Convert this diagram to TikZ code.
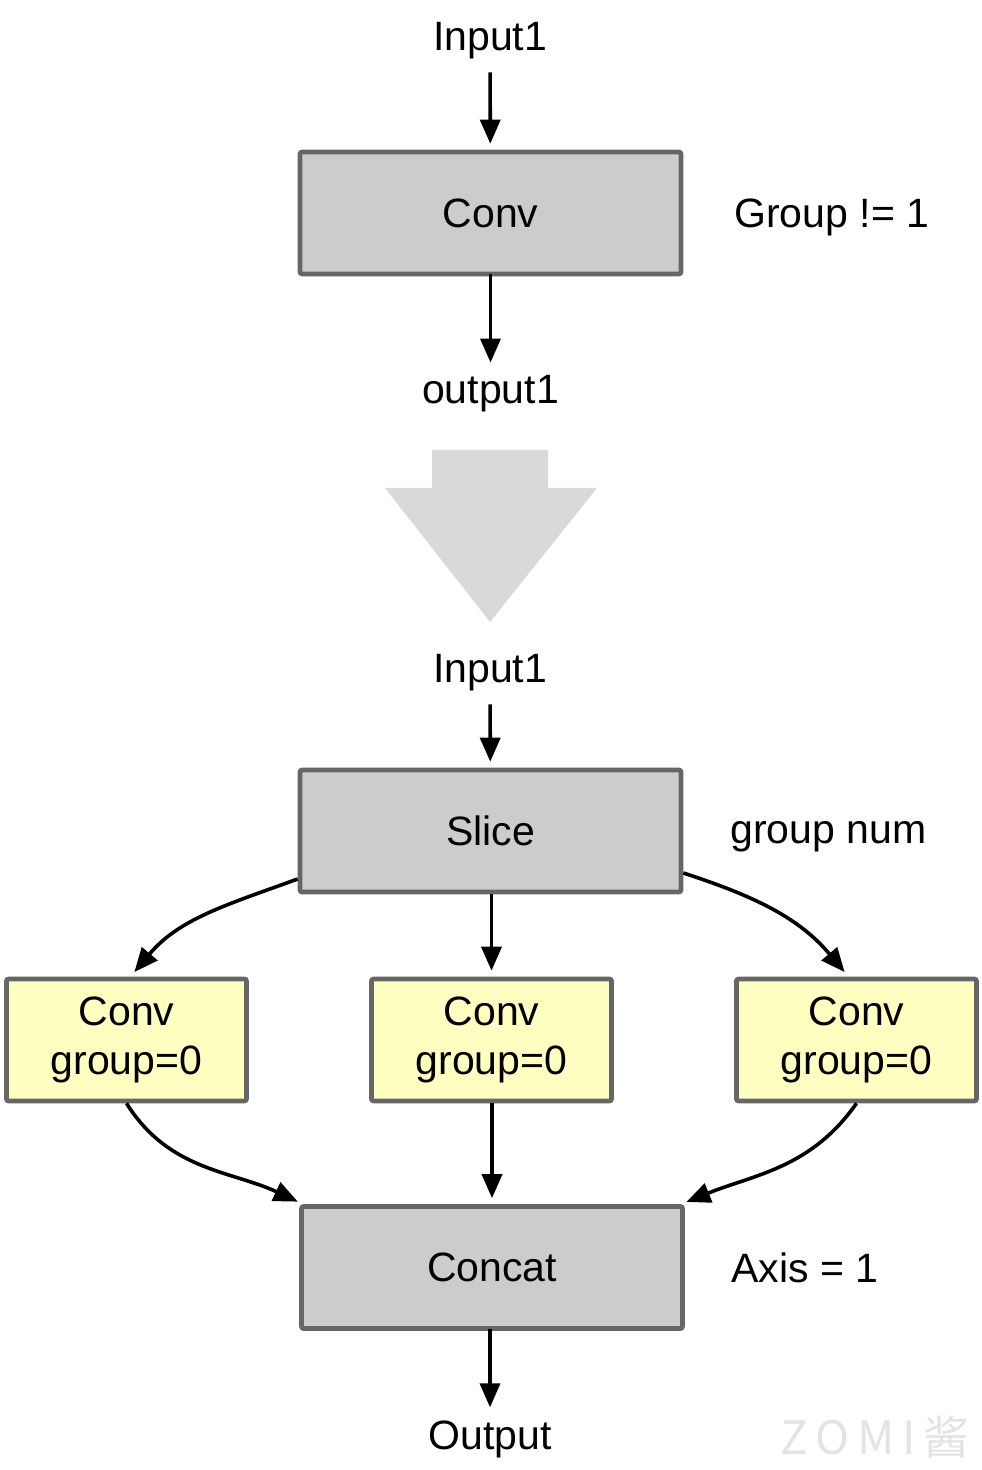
\documentclass[tikz,border=0pt]{standalone}
\usepackage{fontspec}
\setmainfont{Liberation Sans}
\newfontfamily\cjk{Noto Sans CJK SC}
\usepackage{tikz}
\usetikzlibrary{arrows.meta, positioning, calc}
\definecolor{boxgray}{RGB}{204, 204, 204}
\definecolor{edgegray}{RGB}{102, 102, 102}
\definecolor{boxyellow}{RGB}{255, 255, 194}
\definecolor{bigarrow}{RGB}{217, 217, 217}
\newcommand{\mainsize}{\fontsize{20.5}{24.5}\selectfont}

\begin{document}
\begin{tikzpicture}[x=0.5pt, y=0.5pt, >={Triangle[length=12pt, width=10pt]},
  opbox/.style={draw=edgegray, line width=2.3pt, rounded corners=1pt, fill=boxgray,
    minimum width=190.5pt, minimum height=61pt, font=\mainsize},
  subbox/.style={opbox, fill=boxyellow, minimum width=120pt, align=center},
  lbl/.style={font=\mainsize},
  side/.style={lbl, anchor=west, inner sep=0pt},
  flow/.style={->, line width=1.8pt, shorten >=3pt}]
  \useasboundingbox (0,0) rectangle (981,1470);
  % Before: grouped conv
  \node[lbl] (in1) at (490,1429) {Input1};
  \node[opbox] (conv) at (490.5,1257) {Conv};
  \node[side] (grp) at (734,1253) {Group != 1};
  \node[lbl] (out1) at (490.5,1076) {output1};
  \draw[flow, shorten <=3pt] (in1) -- (conv);
  \draw[flow, shorten <=-1pt] (conv) -- (out1);
  % Big arrow
  \fill[bigarrow] (432,1020) -- (548,1020) -- (548,982) -- (597,982)
    -- (490,848) -- (385,982) -- (432,982) -- cycle;
  % After: slice, convs, concat
  \node[lbl] (in2) at (490,797) {Input1};
  \node[opbox] (slice) at (490.5,639) {Slice};
  \node[side] (num) at (730,633) {group num};
  \node[subbox] (yl) at (126.5,430) {Conv\\group=0};
  \node[subbox] (ym) at (491.5,430) {Conv\\group=0};
  \node[subbox] (yr) at (856.5,430) {Conv\\group=0};
  \node[opbox] (concat) at (492,202.5) {Concat};
  \node[side] (axis) at (731,202) {Axis = 1};
  \node[lbl] (out) at (490,31) {Output};
  \draw[flow, shorten <=3pt] (in2) -- (slice);
  \draw[flow] ([yshift=-24pt]slice.west) to[out=200, in=50] ([xshift=2pt]yl.north);
  \draw[flow] (slice.south -| ym.north) -- (ym);
  \draw[flow] ([yshift=-21pt]slice.east) to[out=-18, in=130] ([xshift=-4pt]yr.north);
  \draw[flow] (yl.south) to[out=-58, in=155] ([xshift=2pt]concat.north west);
  \draw[flow] (ym.south -| concat.north) -- (concat);
  \draw[flow] (yr.south) to[out=-125, in=22] ([xshift=-2pt]concat.north east);
  \draw[flow, shorten <=-1pt] (concat.south -| out.north) -- (out);
  % Watermark
  \node[text=gray!22, font=\cjk\fontsize{23}{23}\selectfont] (mark) at (875,33) {Z\,O\,M\,I\,酱};
\end{tikzpicture}
\end{document}
